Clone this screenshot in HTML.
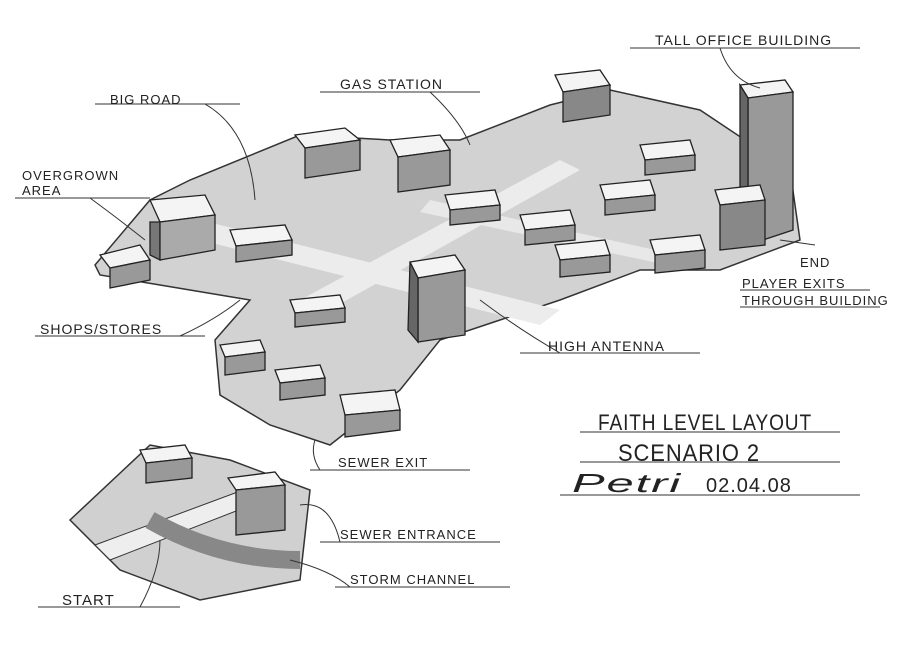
<!DOCTYPE html>
<html><head><meta charset="utf-8"><style>
html,body{margin:0;padding:0;background:#fff;}
svg{display:block;}
text{font-family:"Liberation Sans",sans-serif;fill:#222;letter-spacing:1px;}
</style></head><body>
<svg width="900" height="647" viewBox="0 0 900 647" xmlns="http://www.w3.org/2000/svg">
<rect width="900" height="647" fill="#fff"/>
<polygon points="95,265 150,200 190,180 300,135 390,140 460,140 550,105 610,90 700,110 790,170 800,240 720,270 640,270 560,300 500,320 440,340 400,390 330,445 270,425 220,395 215,340 250,300 160,285 100,275" fill="#d2d2d2" stroke="#333" stroke-width="1.5"/>
<polygon points="180,215 560,310 540,325 160,230" fill="#ececec"/>
<polygon points="300,300 560,160 580,170 320,315" fill="#ececec"/>
<polygon points="430,200 700,260 690,270 420,212" fill="#e8e8e8"/>
<g fill="#f4f4f4" stroke="#222" stroke-width="1.3">
<polygon points="150,200 205,195 215,215 160,222"/><polygon points="150,222 160,222 160,260 150,255" fill="#777"/><polygon points="160,222 215,215 215,250 160,260" fill="#aaa"/>
<polygon points="100,255 140,245 150,260 110,268"/><polygon points="110,268 150,260 150,280 110,288" fill="#999"/>
<polygon points="295,135 345,128 360,140 305,148"/><polygon points="305,148 360,140 360,170 305,178" fill="#999"/>
<polygon points="390,140 440,135 450,150 398,157"/><polygon points="398,157 450,150 450,185 398,192" fill="#999"/>
<polygon points="555,75 600,70 610,85 563,92"/><polygon points="563,92 610,85 610,115 563,122" fill="#888"/>
<polygon points="740,85 785,80 793,92 748,98"/><polygon points="748,98 793,92 793,230 748,245" fill="#999"/><polygon points="740,85 748,98 748,245 740,235" fill="#666"/>
<polygon points="715,190 760,185 765,200 720,205"/><polygon points="720,205 765,200 765,245 720,250" fill="#888"/>
<polygon points="410,262 455,255 465,270 418,278"/><polygon points="418,278 465,270 465,335 418,342" fill="#999"/><polygon points="410,262 418,278 418,342 408,330" fill="#666"/>
<polygon points="445,195 495,190 500,205 450,210"/><polygon points="450,210 500,205 500,220 450,225" fill="#999"/>
<polygon points="520,215 570,210 575,225 525,230"/><polygon points="525,230 575,225 575,240 525,245" fill="#999"/>
<polygon points="555,245 605,240 610,255 560,260"/><polygon points="560,260 610,255 610,272 560,277" fill="#999"/>
<polygon points="230,230 285,225 292,240 236,246"/><polygon points="236,246 292,240 292,255 236,262" fill="#999"/>
<polygon points="340,395 395,390 400,410 345,415"/><polygon points="345,415 400,410 400,430 345,437" fill="#999"/>
<polygon points="220,345 260,340 265,352 225,357"/><polygon points="225,357 265,352 265,370 225,375" fill="#999"/>
<polygon points="275,370 320,365 325,378 280,383"/><polygon points="280,383 325,378 325,395 280,400" fill="#999"/>
<polygon points="290,300 340,295 345,308 295,313"/><polygon points="295,313 345,308 345,322 295,327" fill="#999"/>
<polygon points="640,145 690,140 695,155 645,160"/><polygon points="645,160 695,155 695,170 645,175" fill="#999"/>
<polygon points="650,240 700,235 705,250 655,255"/><polygon points="655,255 705,250 705,268 655,273" fill="#999"/>
<polygon points="600,185 650,180 655,195 605,200"/><polygon points="605,200 655,195 655,210 605,215" fill="#999"/>
</g>
<polygon points="70,520 150,445 230,460 310,490 300,580 200,600 120,570" fill="#d0d0d0" stroke="#333" stroke-width="1.5"/>
<polygon points="95,545 270,480 285,492 110,560" fill="#eee" stroke="#333"/>
<path d="M150,520 Q220,560 300,560" stroke="#888" stroke-width="18" fill="none"/>
<g fill="#f4f4f4" stroke="#222" stroke-width="1.3">
<polygon points="140,450 185,445 192,458 146,463"/><polygon points="146,463 192,458 192,478 146,483" fill="#999"/>
<polygon points="228,478 275,472 285,485 236,490"/><polygon points="236,490 285,485 285,530 236,535" fill="#999"/>
</g>
<g stroke="#333" stroke-width="1" fill="none">
<line x1="630" y1="48" x2="860" y2="48"/><path d="M720,48 Q730,80 760,88"/>
<line x1="320" y1="92" x2="480" y2="92"/><path d="M430,92 Q460,120 470,145"/>
<line x1="95" y1="104" x2="240" y2="104"/><path d="M205,104 Q250,130 255,200"/>
<line x1="15" y1="198" x2="150" y2="198"/><path d="M90,198 Q120,220 145,240"/>
<line x1="35" y1="336" x2="205" y2="336"/><path d="M180,336 Q215,320 240,300"/>
<line x1="520" y1="353" x2="700" y2="353"/><path d="M560,353 Q520,330 480,300"/>
<line x1="310" y1="470" x2="470" y2="470"/><path d="M320,470 Q310,455 315,440"/>
<line x1="320" y1="542" x2="500" y2="542"/><path d="M340,542 Q330,500 300,505"/>
<line x1="335" y1="587" x2="510" y2="587"/><path d="M350,587 Q330,570 290,560"/>
<line x1="38" y1="607" x2="180" y2="607"/><path d="M140,607 Q160,570 160,540"/>
<line x1="740" y1="290" x2="870" y2="290"/><line x1="740" y1="307" x2="880" y2="307"/>
<line x1="580" y1="432" x2="840" y2="432"/><line x1="580" y1="462" x2="840" y2="462"/><line x1="560" y1="495" x2="860" y2="495"/>
<line x1="780" y1="240" x2="815" y2="245"/>
</g>
<text x="655" y="45" font-size="14">TALL OFFICE BUILDING</text>
<text x="340" y="89" font-size="14">GAS STATION</text>
<text x="110" y="104" font-size="13">BIG ROAD</text>
<text x="22" y="180" font-size="13">OVERGROWN</text>
<text x="22" y="195" font-size="13">AREA</text>
<text x="800" y="267" font-size="13">END</text>
<text x="742" y="288" font-size="13">PLAYER EXITS</text>
<text x="742" y="305" font-size="13">THROUGH BUILDING</text>
<text x="40" y="334" font-size="14">SHOPS/STORES</text>
<text x="548" y="351" font-size="14">HIGH ANTENNA</text>
<text x="598" y="430" font-size="22" textLength="214" lengthAdjust="spacingAndGlyphs">FAITH LEVEL LAYOUT</text>
<text x="618" y="461" font-size="24" textLength="142" lengthAdjust="spacingAndGlyphs">SCENARIO 2</text>
<text x="572" y="492" font-size="26" font-style="italic" textLength="110" lengthAdjust="spacingAndGlyphs">Petri</text>
<text x="706" y="492" font-size="20">02.04.08</text>
<text x="338" y="467" font-size="13">SEWER EXIT</text>
<text x="340" y="539" font-size="13">SEWER ENTRANCE</text>
<text x="350" y="584" font-size="13">STORM CHANNEL</text>
<text x="62" y="605" font-size="15">START</text>
</svg>
</body></html>
